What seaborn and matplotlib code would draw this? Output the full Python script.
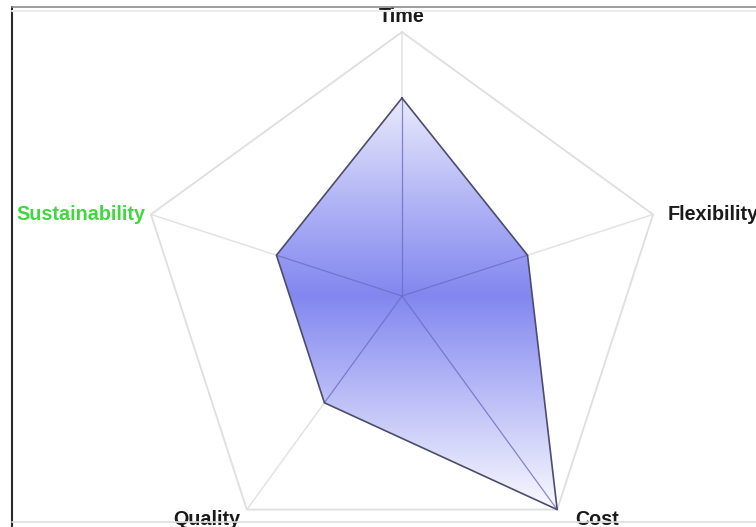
import numpy as np
import matplotlib
matplotlib.use("Agg")
import matplotlib.pyplot as plt
import seaborn as sns
import pandas as pd
from matplotlib.patches import Polygon
from matplotlib.lines import Line2D

# ---- data ----
categories = ["Time", "Flexibility", "Cost", "Quality", "Sustainability"]
values = [3, 2, 4, 2, 2]
r_max = 4
label_colors = ["#1a1a1a", "#1a1a1a", "#1a1a1a", "#1a1a1a", "#3fd83f"]

# ---- style ----
sns.set_theme(style="white")
plt.rcParams['font.family'] = ['Liberation Sans', 'DejaVu Sans']

W, H, DPI = 756, 527, 100
fig = plt.figure(figsize=(W / DPI, H / DPI), dpi=DPI)
fig.patch.set_facecolor('white')
ax = fig.add_axes([0, 0, 1, 1])
ax.set_axis_off()

cx, cy, R = 402, 296, 264          # centre (px from left / top) and radius in px
scale = R / r_max                   # px per data unit
xlim = (-cx / scale, (W - cx) / scale)
ylim = (-(H - cy) / scale, cy / scale)

n = len(categories)
theta = np.deg2rad(90 - 360 / n * np.arange(n))
vals = np.asarray(values, dtype=float)
xs = vals * np.cos(theta)
ys = vals * np.sin(theta)
ox = r_max * np.cos(theta)
oy = r_max * np.sin(theta)

# grid: spokes + outer pentagon
for i in range(n):
    ax.plot([0, ox[i]], [0, oy[i]], color='#e3e3e3', lw=1.1, zorder=1)
ax.plot(np.append(ox, ox[0]), np.append(oy, oy[0]), color='#dfdfdf', lw=1.3, zorder=1)

# gradient fill clipped to polygon
patch = Polygon(np.column_stack([xs, ys]), closed=True, facecolor='none',
                edgecolor='none', zorder=2)
ax.add_patch(patch)
t = np.linspace(0, 1, 400)
inten = np.interp(t, [0, 0.25, 0.48, 0.73, 0.9, 1.0], [0.17, 0.6, 0.97, 0.52, 0.22, 0.04])
blue = np.array([126, 131, 239]) / 255.0
white = np.ones(3)
rows = white[None, :] * (1 - inten[:, None]) + blue[None, :] * inten[:, None]
img = np.repeat(rows[:, None, :], 4, axis=1)
im = ax.imshow(img, extent=[xs.min(), xs.max(), ys.min(), ys.max()],
               origin='upper', aspect='auto', zorder=2, interpolation='bilinear')
im.set_clip_path(patch)

# spokes inside the polygon (darker)
for i in range(n):
    ax.plot([0, xs[i]], [0, ys[i]], color='#6c6cc4', lw=0.9, alpha=0.8, zorder=3)

# polygon outline through seaborn
outline = pd.DataFrame({"x": np.append(xs, xs[0]), "y": np.append(ys, ys[0])})
sns.lineplot(data=outline, x="x", y="y", sort=False, estimator=None,
             color='#4c4c6c', lw=1.2, ax=ax, zorder=4)
ax.set_axis_off()

# labels
offsets = [(0, 10, 'center', 'baseline'),
           (15, 0, 'left', 'center'),
           (18, -15, 'left', 'baseline'),
           (-6, -15, 'right', 'baseline'),
           (-6, 0, 'right', 'center')]
for i, lab in enumerate(categories):
    dx, dy, ha, va = offsets[i]
    ax.annotate(lab, (ox[i], oy[i]), xytext=(dx, dy), textcoords='offset pixels',
                ha=ha, va=va, fontsize=14.2, fontweight='bold',
                color=label_colors[i], zorder=6, annotation_clip=False)

ax.set_xlim(*xlim)
ax.set_ylim(*ylim)

# frame
fig.add_artist(Line2D([11.5 / W, 11.5 / W], [0, 1 - 7 / H], color='#2a2a2a', lw=1.5))
fig.add_artist(Line2D([11.5 / W, 1], [1 - 7 / H, 1 - 7 / H], color='#8c8c8c', lw=1.2))
fig.add_artist(Line2D([11.5 / W, 1], [1 - 10.5 / H, 1 - 10.5 / H], color='#ececec', lw=1.5))
fig.add_artist(Line2D([11.5 / W, 1], [5 / H, 5 / H], color='#dedede', lw=1.2))

fig.savefig("out.png", dpi=DPI, facecolor='white')
